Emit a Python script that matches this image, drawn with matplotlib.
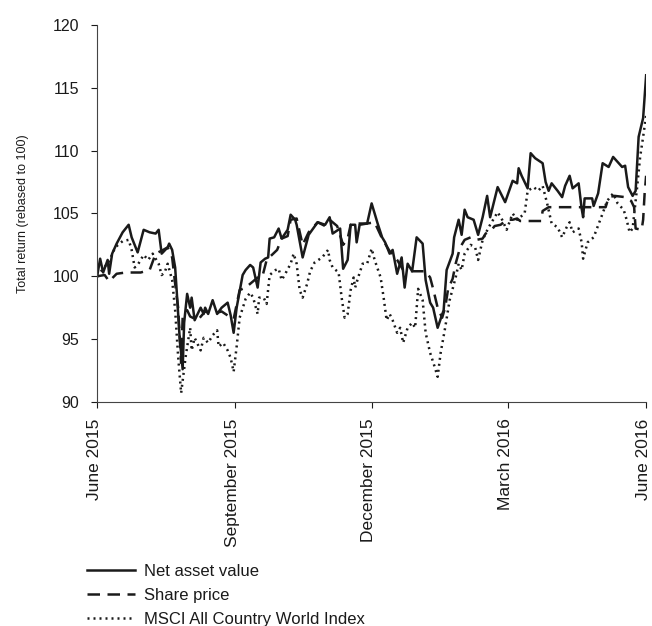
import matplotlib
matplotlib.use("Agg")
import matplotlib.pyplot as plt
import matplotlib.transforms as mtransforms
import pandas as pd

plt.rcParams['font.family'] = ['Liberation Sans', 'DejaVu Sans']

# Net asset value (rebased to 100)
nav_dates = [
    "2015-06-01", "2015-06-03", "2015-06-05", "2015-06-08", "2015-06-09", "2015-06-11",
    "2015-06-14", "2015-06-18", "2015-06-22", "2015-06-24", "2015-06-28", "2015-07-02",
    "2015-07-06", "2015-07-10", "2015-07-12", "2015-07-14", "2015-07-18", "2015-07-19",
    "2015-07-21", "2015-07-23", "2015-07-24", "2015-07-26", "2015-07-28", "2015-07-29",
    "2015-07-31", "2015-08-02", "2015-08-03", "2015-08-05", "2015-08-09", "2015-08-11",
    "2015-08-12", "2015-08-14", "2015-08-17", "2015-08-20", "2015-08-23", "2015-08-27",
    "2015-08-29", "2015-08-31", "2015-09-02", "2015-09-06", "2015-09-08", "2015-09-11",
    "2015-09-13", "2015-09-16", "2015-09-18", "2015-09-21", "2015-09-23", "2015-09-24",
    "2015-09-27", "2015-09-30", "2015-10-02", "2015-10-06", "2015-10-08", "2015-10-11",
    "2015-10-12", "2015-10-16", "2015-10-20", "2015-10-26", "2015-10-31", "2015-11-03",
    "2015-11-05", "2015-11-10", "2015-11-12", "2015-11-15", "2015-11-17", "2015-11-20",
    "2015-11-21", "2015-11-23", "2015-11-28", "2015-12-01", "2015-12-03", "2015-12-05",
    "2015-12-08", "2015-12-10", "2015-12-13", "2015-12-15", "2015-12-18", "2015-12-21",
    "2015-12-23", "2015-12-25", "2015-12-28", "2015-12-31", "2016-01-04", "2016-01-06",
    "2016-01-09", "2016-01-11", "2016-01-14", "2016-01-18", "2016-01-20", "2016-01-24",
    "2016-01-25", "2016-01-28", "2016-01-30", "2016-02-01", "2016-02-03", "2016-02-07",
    "2016-02-10", "2016-02-13", "2016-02-16", "2016-02-18", "2016-02-23", "2016-02-28",
    "2016-03-04", "2016-03-07", "2016-03-08", "2016-03-10", "2016-03-14", "2016-03-16",
    "2016-03-19", "2016-03-24", "2016-03-26", "2016-03-28", "2016-03-30", "2016-04-03",
    "2016-04-06", "2016-04-08", "2016-04-11", "2016-04-13", "2016-04-17", "2016-04-19",
    "2016-04-20", "2016-04-21", "2016-04-26", "2016-04-27", "2016-04-30", "2016-05-03",
    "2016-05-07", "2016-05-10", "2016-05-13", "2016-05-16", "2016-05-18", "2016-05-20",
    "2016-05-23", "2016-05-25", "2016-05-27", "2016-05-30", "2016-06-01",
]
nav_values = [
    100.0, 101.4, 100.3, 101.3, 100.2, 101.8,
    102.6, 103.5, 104.1, 103.1, 101.9, 103.7,
    103.5, 103.4, 103.7, 101.8, 102.3, 102.6,
    102.1, 100.7, 98.9, 95.1, 92.6, 96.3,
    98.6, 97.5, 98.3, 96.5, 97.5, 97.0,
    97.5, 97.0, 98.1, 97.0, 97.5, 97.9,
    96.9, 95.5, 97.5, 100.1, 100.5, 100.9,
    100.7, 99.1, 101.1, 101.4, 101.5, 103.0,
    103.1, 103.8, 103.0, 103.7, 104.9, 104.5,
    104.1, 101.5, 103.3, 104.3, 104.1, 104.7,
    103.4, 103.8, 100.6, 101.3, 104.1, 104.1,
    102.7, 104.1, 104.2, 105.8, 105.0, 104.2,
    103.1, 102.7, 101.8, 102.1, 100.2, 101.5,
    99.1, 101.0, 100.4, 103.1, 102.6, 99.7,
    97.9, 97.5, 95.9, 97.3, 100.5, 101.8,
    103.1, 104.5, 103.3, 105.3, 104.7, 104.5,
    103.3, 104.7, 106.4, 104.7, 107.1, 105.9,
    107.6, 107.4, 108.6, 108.0, 107.0, 109.8,
    109.4, 109.0, 107.5, 106.8, 107.4, 106.8,
    106.3, 107.2, 108.0, 107.0, 107.4, 105.4,
    104.7, 106.2, 106.2, 105.6, 106.6, 109.0,
    108.7, 109.5, 109.1, 108.7, 108.8, 107.1,
    106.4, 106.8, 111.1, 112.6, 116.0,
]

# Share price
sp_dates = [
    "2015-06-01", "2015-06-06", "2015-06-09", "2015-06-14", "2015-06-20", "2015-06-30",
    "2015-07-06", "2015-07-10", "2015-07-15", "2015-07-18", "2015-07-21", "2015-07-23",
    "2015-07-25", "2015-07-27", "2015-07-28", "2015-07-31", "2015-08-02", "2015-08-07",
    "2015-08-12", "2015-08-17", "2015-08-23", "2015-08-28", "2015-08-31", "2015-09-04",
    "2015-09-08", "2015-09-11", "2015-09-16", "2015-09-19", "2015-09-22", "2015-09-29",
    "2015-10-02", "2015-10-06", "2015-10-08", "2015-10-12", "2015-10-16", "2015-10-20",
    "2015-10-26", "2015-10-31", "2015-11-03", "2015-11-08", "2015-11-12", "2015-11-15",
    "2015-11-17", "2015-11-21", "2015-11-28", "2015-12-03", "2015-12-08", "2015-12-13",
    "2015-12-18", "2015-12-22", "2015-12-28", "2016-01-06", "2016-01-09", "2016-01-11",
    "2016-01-14", "2016-01-17", "2016-01-19", "2016-01-21", "2016-01-24", "2016-01-26",
    "2016-01-29", "2016-02-01", "2016-02-05", "2016-02-09", "2016-02-13", "2016-02-15",
    "2016-02-19", "2016-02-21", "2016-02-25", "2016-02-29", "2016-03-04", "2016-03-07",
    "2016-03-09", "2016-03-23", "2016-03-24", "2016-03-28", "2016-05-05", "2016-05-07",
    "2016-05-11", "2016-05-18", "2016-05-22", "2016-05-24", "2016-05-25", "2016-05-29",
    "2016-05-30", "2016-05-31", "2016-06-01",
]
sp_values = [
    100.0, 100.1, 99.6, 100.2, 100.3, 100.3,
    100.5, 101.8, 102.1, 102.3, 101.5, 99.4,
    97.5, 93.1, 96.7, 97.3, 96.8, 96.5,
    97.2, 97.0, 97.2, 96.8, 96.6, 98.9,
    99.1, 99.4, 99.9, 99.9, 101.3, 102.1,
    103.0, 103.2, 104.5, 104.6, 102.5, 103.5,
    104.3, 104.0, 104.5, 104.0, 102.5, 103.0,
    104.1, 104.2, 104.2, 104.3, 103.0, 102.0,
    101.3, 100.5, 100.4, 100.4, 99.9, 99.0,
    97.5, 96.7, 97.5, 99.0, 99.8, 101.0,
    102.3, 102.9, 103.1, 102.9, 103.0, 103.4,
    103.7, 104.0, 104.1, 104.5, 104.5, 104.6,
    104.4, 104.4, 105.2, 105.5, 105.5, 106.3,
    106.4, 106.3, 106.0, 105.5, 103.8, 103.7,
    104.5, 106.6, 108.0,
]

# MSCI All Country World Index
msci_dates = [
    "2015-06-01", "2015-06-05", "2015-06-09", "2015-06-13", "2015-06-18", "2015-06-22",
    "2015-06-24", "2015-06-26", "2015-06-28", "2015-07-02", "2015-07-05", "2015-07-08",
    "2015-07-12", "2015-07-14", "2015-07-16", "2015-07-18", "2015-07-21", "2015-07-23",
    "2015-07-25", "2015-07-27", "2015-07-30", "2015-08-02", "2015-08-03", "2015-08-05",
    "2015-08-09", "2015-08-11", "2015-08-14", "2015-08-17", "2015-08-20", "2015-08-21",
    "2015-08-24", "2015-08-27", "2015-08-29", "2015-08-31", "2015-09-02", "2015-09-04",
    "2015-09-08", "2015-09-11", "2015-09-13", "2015-09-16", "2015-09-17", "2015-09-20",
    "2015-09-22", "2015-09-24", "2015-09-28", "2015-09-30", "2015-10-02", "2015-10-04",
    "2015-10-08", "2015-10-10", "2015-10-12", "2015-10-14", "2015-10-16", "2015-10-19",
    "2015-10-21", "2015-10-24", "2015-10-29", "2015-10-31", "2015-11-02", "2015-11-03",
    "2015-11-05", "2015-11-09", "2015-11-11", "2015-11-13", "2015-11-15", "2015-11-17",
    "2015-11-19", "2015-11-20", "2015-11-22", "2015-11-25", "2015-11-28", "2015-12-01",
    "2015-12-03", "2015-12-07", "2015-12-09", "2015-12-11", "2015-12-13", "2015-12-15",
    "2015-12-18", "2015-12-20", "2015-12-22", "2015-12-25", "2015-12-28", "2015-12-30",
    "2016-01-01", "2016-01-04", "2016-01-06", "2016-01-09", "2016-01-12", "2016-01-14",
    "2016-01-16", "2016-01-19", "2016-01-22", "2016-01-26", "2016-01-28", "2016-01-30",
    "2016-02-01", "2016-02-05", "2016-02-08", "2016-02-10", "2016-02-13", "2016-02-17",
    "2016-02-20", "2016-02-23", "2016-02-26", "2016-02-29", "2016-03-04", "2016-03-07",
    "2016-03-12", "2016-03-14", "2016-03-18", "2016-03-21", "2016-03-24", "2016-03-27",
    "2016-03-30", "2016-04-03", "2016-04-06", "2016-04-09", "2016-04-11", "2016-04-13",
    "2016-04-17", "2016-04-19", "2016-04-20", "2016-04-23", "2016-04-27", "2016-05-03",
    "2016-05-06", "2016-05-10", "2016-05-13", "2016-05-17", "2016-05-19", "2016-05-21",
    "2016-05-23", "2016-05-26", "2016-05-28", "2016-05-30", "2016-06-01",
]
msci_values = [
    100.0, 100.6, 101.2, 102.3, 102.8, 102.9,
    102.1, 100.7, 100.9, 101.7, 101.3, 101.8,
    101.0, 100.1, 100.3, 101.0, 99.7, 97.3,
    93.6, 90.7, 93.6, 95.9, 94.1, 95.1,
    94.1, 95.1, 94.7, 95.3, 95.7, 94.4,
    94.7, 94.1, 93.5, 92.4, 94.4, 96.7,
    98.2, 98.7, 98.3, 97.0, 98.3, 98.3,
    97.8, 100.1, 100.5, 100.6, 99.7, 100.1,
    101.0, 101.8, 101.0, 98.9, 98.3, 99.4,
    100.4, 101.1, 101.5, 101.8, 102.1, 101.3,
    100.7, 100.3, 98.3, 96.7, 97.0, 98.9,
    99.9, 99.1, 99.9, 101.0, 101.0, 102.2,
    101.3, 99.9, 98.3, 96.5, 97.0, 96.5,
    95.5, 95.9, 94.7, 95.9, 96.3, 95.9,
    99.0, 98.1, 95.5, 93.9, 92.8, 92.0,
    93.9, 95.9, 98.1, 99.9, 101.0, 100.5,
    101.8, 102.5, 102.3, 101.3, 102.9, 103.9,
    104.5, 105.1, 104.5, 103.7, 105.0, 104.5,
    105.0, 106.8, 107.1, 106.8, 107.2, 105.8,
    104.2, 103.9, 103.1, 103.9, 104.3, 103.5,
    103.8, 102.7, 101.4, 102.7, 103.1, 105.0,
    106.0, 106.6, 105.8, 105.3, 104.5, 103.5,
    103.8, 107.1, 109.5, 111.1, 112.8,
]

tick_dates = ["2015-06-01", "2015-09-01", "2015-12-01", "2016-03-01", "2016-06-01"]
tick_labels = ["June 2015", "September 2015", "December 2015", "March 2016", "June 2016"]

ink = "#1a1a1a"

fig = plt.figure(figsize=(6.52, 6.26), dpi=100)
ax = fig.add_axes([0.149, 0.358, 0.842, 0.602])

ax.plot(pd.to_datetime(nav_dates), nav_values, color=ink, lw=1.8,
        label="Net asset value")
ax.plot(pd.to_datetime(sp_dates), sp_values, color=ink, lw=1.8,
        dashes=(5, 3), label="Share price")
ax.plot(pd.to_datetime(msci_dates), msci_values, color=ink, lw=1.8,
        dashes=(0.8, 1.6), label="MSCI All Country World Index")

ax.set_xlim(pd.Timestamp("2015-06-01"), pd.Timestamp("2016-06-01"))
ax.set_ylim(90, 120)
ax.set_yticks(range(90, 121, 5))
ax.set_xticks(pd.to_datetime(tick_dates))
ax.set_xticklabels(tick_labels, rotation=90, fontsize=12.5)
ax.tick_params(axis="y", labelsize=11.5, length=4, width=0.8, pad=9, colors=ink)
ax.tick_params(axis="x", length=4, width=0.8, pad=8, colors=ink)

# labels sit a touch left of their ticks, as in the source
shift = mtransforms.ScaledTranslation(-2 / 72, 0, fig.dpi_scale_trans)
for lab in ax.get_xticklabels():
    lab.set_transform(lab.get_transform() + shift)

for side in ["top", "right"]:
    ax.spines[side].set_visible(False)
for side in ["left", "bottom"]:
    ax.spines[side].set_color("#444444")
    ax.spines[side].set_linewidth(0.8)

ax.set_ylabel("Total return (rebased to 100)", fontsize=9, color=ink, labelpad=17)

fig.legend(loc="upper left", bbox_to_anchor=(0.123, 0.110), frameon=False,
           fontsize=12, handlelength=2.9, labelspacing=0.55, handletextpad=0.55,
           borderaxespad=0, labelcolor=ink, bbox_transform=fig.transFigure)

fig.savefig("out.png", dpi=100)
